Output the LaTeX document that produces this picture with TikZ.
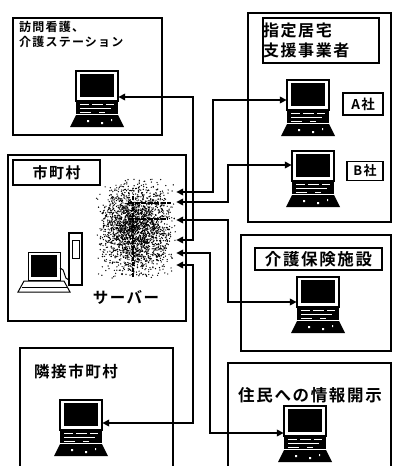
\documentclass[tikz,border=0pt]{standalone}
\usepackage{fontspec}
\setmainfont{Noto Sans CJK JP}[BoldFont={Noto Sans CJK JP Bold},LetterSpace=10]
\usepackage{tikz}
\usetikzlibrary{arrows.meta}

\tikzset{
    panel/.style = {draw = black, line width = 1.4pt, inner sep = 0pt},
    titlebox/.style = {draw = black, line width = 1.3pt, inner sep = 0pt},
    label/.style = {font = \bfseries, inner sep = 0pt},
    link/.style = {line width = 1.8pt,
        {Triangle[length=7pt,width=6.5pt]}-{Triangle[length=7pt,width=6.5pt]}},
    pics/computer/.style = {code = {
        \draw[line width = 1.2pt, fill = white] (-21,-15) rectangle (21,15);
        \fill (-17,-12) rectangle (17,11);
        \node[minimum width = 42pt, minimum height = 30pt, inner sep = 0pt] (-scr) at (0,0) {};
        \fill (-21,16) rectangle (21,28);
        \draw[white, line width = 0.9pt] (-17,18.5) -- (-8,18.5) (-5,18.5) -- (6,18.5) (9,18.5) -- (17,18.5);
        \draw[white, line width = 0.9pt] (-17,22.5) -- (14,22.5) (-17,26) -- (-6,26) (2,26) -- (8,26);
        \fill (-21,29) -- (21,29) -- (27,41) -- (-27,41) -- cycle;
        \fill[white] (-10,34) rectangle (-8,36) (4,36) rectangle (6,38) (14,33) rectangle (15,35);
    }}
}

\begin{document}
\begin{tikzpicture}[x = 1pt, y = -1pt]
        \fill[white] (0,0) rectangle (393,466);
        \useasboundingbox (0,0) rectangle (393,466);

        % outer panels
        \node (visit)[panel, minimum width = 149pt, minimum height = 117pt] at (87.5,76.5) {};
        \node (kyotaku)[panel, minimum width = 143pt, minimum height = 209pt] at (319.5,117.5) {};
        \node (city)[panel, minimum width = 178pt, minimum height = 166pt] at (97,238) {};
        \node (kaigo)[panel, minimum width = 150pt, minimum height = 116pt] at (316,293) {};
        \node (jumin)[panel, minimum width = 163pt, minimum height = 117pt] at (309.5,421.5) {};
        \node (rinsetsu)[panel, minimum width = 153pt, minimum height = 132pt] at (96.5,414) {};

        % titles
        \node (visit_t)[label, anchor = base west, align = left,
            font = \bfseries\fontsize{12pt}{15pt}\selectfont] at (19,46.5) {訪問看護、\\介護ステーション};
        \node (kyotaku_t)[titlebox, text width = 116pt, minimum height = 45pt, align = left,
            font = \bfseries\fontsize{16pt}{20pt}\selectfont] at (321,40.5) {指定居宅\\支援事業者};
        \node (city_t)[titlebox, minimum width = 87pt, minimum height = 25pt,
            font = \bfseries\fontsize{15pt}{17pt}\selectfont] at (56.5,172.5) {市町村};
        \node (kaigo_t)[titlebox, minimum width = 127pt, minimum height = 22pt,
            font = \bfseries\fontsize{16.5pt}{18pt}\selectfont] at (318.5,259) {介護保険施設};
        \node (jumin_t)[label, font = \bfseries\fontsize{16.5pt}{18pt}\selectfont] at (310,395) {住民への情報開示};
        \node (rinsetsu_t)[label, anchor = west,
            font = \bfseries\fontsize{15.5pt}{17pt}\selectfont] at (34,372) {隣接市町村};
        \node (srv_t)[label, font = \bfseries\fontsize{15.5pt}{17pt}\selectfont] at (126,297) {サーバー};
        \node (a_t)[titlebox, minimum width = 40pt, minimum height = 22pt,
            font = \bfseries\fontsize{13.5pt}{15pt}\selectfont] at (363,104) {A社};
        \node (b_t)[titlebox, minimum width = 36pt, minimum height = 19pt,
            font = \bfseries\fontsize{13pt}{15pt}\selectfont] at (365,171) {B社};

        % terminals
        \pic (pcV) at (97,86) {computer};
        \pic (pcA) at (308,95) {computer};
        \pic (pcB) at (313,166) {computer};
        \pic (pcK) at (318,292) {computer};
        \pic (pcJ) at (305,421) {computer};
        \pic (pcR) at (81,415) {computer};

        % server, a speckled cabinet
        \node (srv)[minimum width = 80pt, minimum height = 100pt, inner sep = 0pt] at (136,229) {};
        \pgfmathsetseed{11}
        \foreach \k in {1,...,2300}{
            \pgfmathsetmacro{\px}{96 + 40*(rnd + rnd)}
            \pgfmathsetmacro{\py}{178 + 51*(rnd + rnd)}
            \fill (\px,\py) circle (0.7pt);
        }
        \draw[line width = 1.3pt, dash pattern = on 4pt off 1.5pt] (133,196) -- (133,278);
        \draw[line width = 1.6pt, dash pattern = on 5pt off 1.5pt] (128,203) -- (171,203);
        \draw[line width = 1.6pt, dash pattern = on 5pt off 1.5pt] (128,219) -- (168,219);

        % desktop beside the server
        \draw[line width = 1pt, fill = white] (28,252) rectangle (60,280);
        \fill (31,255) rectangle (57,277);
        \draw[line width = 1pt] (24,281) -- (64,281) -- (70,292) -- (18,292) -- cycle;
        \draw[line width = 0.8pt] (22,287) -- (67,287);
        \draw[line width = 1.2pt, fill = white] (69,233) rectangle (82,285);
        \draw[line width = 1pt] (72,240) rectangle (79,258);
        \draw[line width = 1pt] (60,268) to[out = 0, in = 180] (69,280);

        % lines to the server
        \draw[link] (srv.east |- 0,192) -| (213,100) -- (pcA-scr.west |- 0,100);
        \draw[link] (srv.east |- 0,202) -| (228,165) -- (pcB-scr.west |- 0,165);
        \draw[link] (srv.east |- 0,220) -| (228,302) -- (pcK-scr.west |- 0,302);
        \draw[link] (srv.east |- 0,240) -| (193,97) -- (pcV-scr.east |- 0,97);
        \draw[link] (srv.east |- 0,253) -| (210,433) -- (pcJ-scr.west |- 0,433);
        \draw[link] (srv.east |- 0,265) -| (193,423) -- (pcR-scr.east |- 0,423);
    \end{tikzpicture}
\end{document}
